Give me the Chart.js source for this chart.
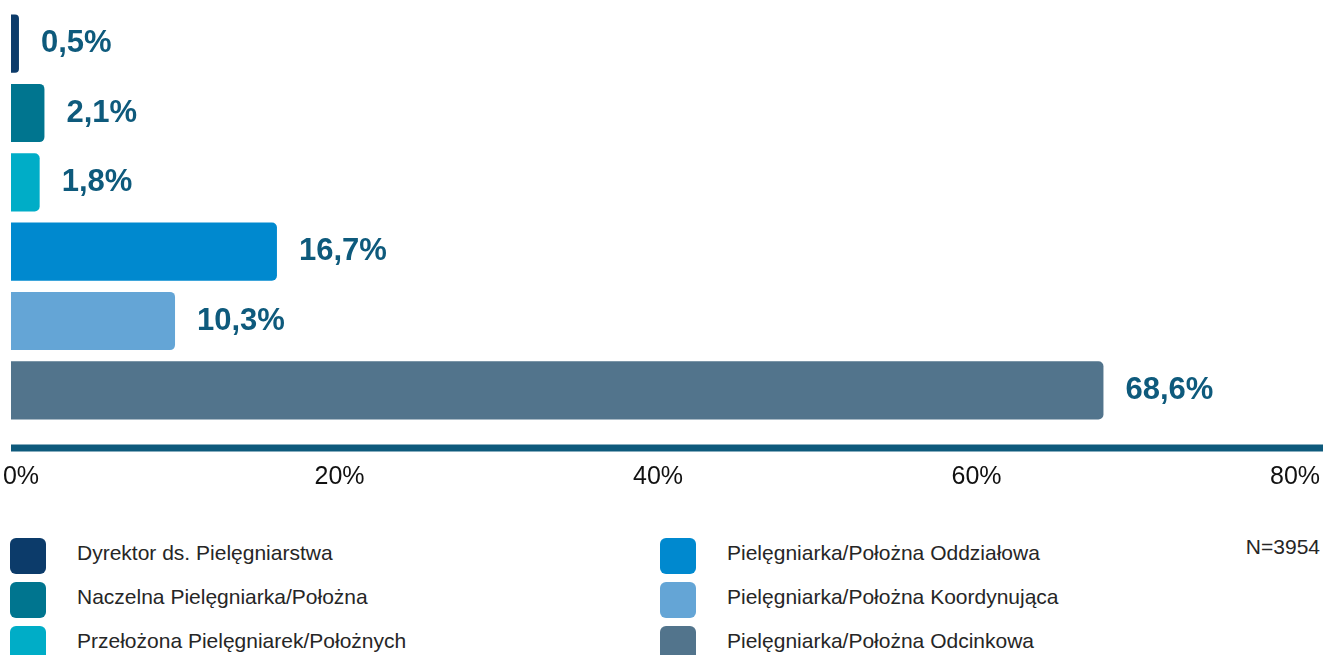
<!DOCTYPE html>
<html lang="pl">
<head>
<meta charset="utf-8">
<script src="https://cdn.jsdelivr.net/npm/chart.js@4/dist/chart.umd.min.js"></script>
<style>
body{margin:0;background:#fff;font-family:"Liberation Sans",Arial,sans-serif;}
#wrap{position:relative;width:1323px;height:655px;overflow:hidden;}
#box{position:absolute;left:0;top:0;width:1323px;height:495px;}
#legend{position:absolute;left:10px;top:538px;display:grid;grid-template-columns:650px 600px;grid-template-rows:repeat(3,44px);grid-auto-flow:column;}
.item{display:flex;align-items:center;height:36px;font-size:21px;color:#262626;}
.item i{display:block;width:36px;height:36px;border-radius:6px;margin-right:31px;flex:none;}
.item span{position:relative;top:-3px;white-space:nowrap;}
#n{position:absolute;right:3px;top:535px;font-size:21px;color:#262626;}
</style>
</head>
<body>
<div id="wrap">
<div id="box"><canvas id="chart"></canvas></div>
<div id="legend"></div>
<div id="n">N=3954</div>
</div>
<script>
//=====================================================
// DANE
//=====================================================

const kategorie=[
"Dyrektor ds. Pielęgniarstwa",
"Naczelna Pielęgniarka/Położna",
"Przełożona Pielęgniarek/Położnych",
"Pielęgniarka/Położna Oddziałowa",
"Pielęgniarka/Położna Koordynująca",
"Pielęgniarka/Położna Odcinkowa"
];

const wartosci=[0.5,2.1,1.8,16.7,10.3,68.6];

const kolory=["#0c3b6a","#00758f","#00adc7","#0089cf","#64a5d6","#52748c"];

const ticksX=[0,20,40,60,80];

const granat="#0e5a7c";

//=====================================================
// WYKRES
//=====================================================

const fmt=v=>v.toFixed(1).replace(".",",")+"%";

const liniaOsi={
id:"liniaOsi",
afterDraw(chart){
const c=chart.ctx,a=chart.chartArea;
c.save();
c.strokeStyle=granat;
c.lineWidth=7;
c.beginPath();
c.moveTo(a.left,a.bottom+23);
c.lineTo(chart.width,a.bottom+23);
c.stroke();
c.restore();
}
};

const etykiety={
id:"etykiety",
afterDatasetsDraw(chart){
const c=chart.ctx;
const meta=chart.getDatasetMeta(0);
c.save();
c.font="bold 31px 'Liberation Sans', Arial, sans-serif";
c.fillStyle=granat;
c.textBaseline="middle";
c.textAlign="left";
meta.data.forEach((bar,i)=>{
c.fillText(fmt(wartosci[i]),bar.x+22,bar.y);
});
c.restore();
}
};

new Chart(document.getElementById("chart"),{

type:"bar",

data:{
labels:kategorie,
datasets:[{
data:wartosci,
backgroundColor:kolory,
borderRadius:5,
barPercentage:0.84,
categoryPercentage:1
}]
},

options:{
indexAxis:"y",
responsive:true,
maintainAspectRatio:false,
animation:false,
layout:{padding:{left:11,right:38,top:9,bottom:3}},
plugins:{
legend:{display:false},
tooltip:{enabled:false}
},
scales:{
y:{display:false},
x:{
min:0,
max:80,
afterBuildTicks(scale){scale.ticks=ticksX.map(v=>({value:v}));},
afterFit(scale){scale.paddingLeft=0;scale.paddingRight=0;scale.height=67;},
grid:{display:false,drawTicks:false},
border:{display:false},
ticks:{
padding:37,
labelOffset:10,
maxRotation:0,
autoSkip:false,
color:"#111",
font:{family:"'Liberation Sans', Arial, sans-serif",size:25},
callback:v=>v+"%"
}
}
}
},

plugins:[liniaOsi,etykiety]

});

//=====================================================
// LEGENDA
//=====================================================

const leg=document.getElementById("legend");
kategorie.forEach((k,i)=>{
const d=document.createElement("div");
d.className="item";
d.innerHTML='<i style="background:'+kolory[i]+'"></i><span>'+k+'</span>';
leg.appendChild(d);
});
</script>
</body>
</html>
